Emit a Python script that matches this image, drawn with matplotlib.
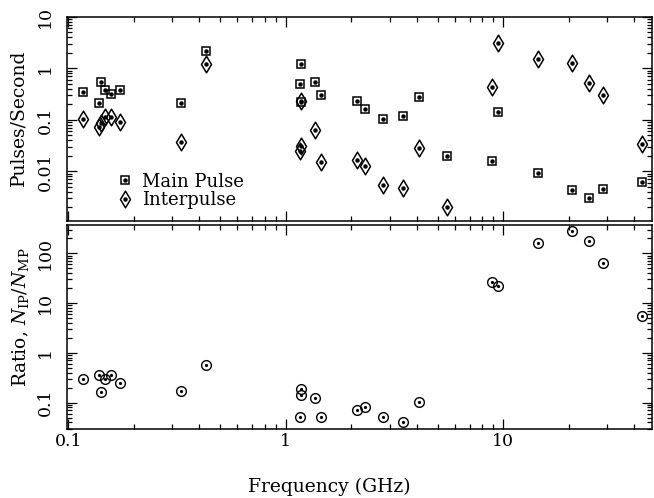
import matplotlib
matplotlib.use("Agg")
import matplotlib.pyplot as plt
from matplotlib.path import Path
from matplotlib.ticker import LogLocator, FuncFormatter, NullFormatter

plt.rcParams['font.family'] = ['DejaVu Serif']
plt.rcParams['mathtext.fontset'] = 'dejavuserif'

# frequencies (GHz) shared by main pulse / interpulse rates
freq = [0.117, 0.139, 0.142, 0.147, 0.157, 0.174, 0.33, 0.43, 1.16, 1.18, 1.18,
        1.36, 1.45, 2.12, 2.30, 2.81, 3.46, 4.11, 5.48, 8.83, 9.46, 14.4, 20.6,
        24.6, 28.7, 43.5]
mp_rate = [0.35, 0.214, 0.54, 0.38, 0.32, 0.375, 0.216, 2.16, 0.49, 1.22, 0.22,
           0.547, 0.30, 0.237, 0.162, 0.106, 0.118, 0.283, 0.0203, 0.016, 0.143,
           0.0093, 0.0044, 0.0030, 0.0046, 0.0063]
ip_rate = [0.105, 0.074, 0.086, 0.116, 0.116, 0.093, 0.037, 1.21, 0.0254, 0.237,
           0.0317, 0.065, 0.0151, 0.0165, 0.013, 0.0054, 0.0047, 0.029, 0.00205,
           0.43, 3.17, 1.53, 1.28, 0.53, 0.30, 0.0347]

# ratio panel (no point at 5.48 GHz)
ratio_freq = [0.117, 0.139, 0.142, 0.147, 0.157, 0.174, 0.33, 0.43, 1.16, 1.18,
              1.18, 1.36, 1.45, 2.12, 2.30, 2.81, 3.46, 4.11, 8.83, 9.46, 14.4,
              20.6, 24.6, 28.7, 43.5]
ratio = [0.30, 0.36, 0.166, 0.296, 0.36, 0.25, 0.172, 0.57, 0.052, 0.19, 0.144,
         0.123, 0.052, 0.071, 0.083, 0.052, 0.0415, 0.103, 26.8, 22.3, 163, 285,
         174, 64, 5.6]

W, H = 654, 498
fig = plt.figure(figsize=(W / 100, H / 100), dpi=100)

def box(x0, y0, x1, y1):
    # pixel box (top-left origin) -> figure fraction rect
    return [x0 / W, 1 - y1 / H, (x1 - x0) / W, (y1 - y0) / H]

ax1 = fig.add_axes(box(66.7, 17, 651.7, 220.7))
ax2 = fig.add_axes(box(66.7, 225, 651.7, 429.3))

diamond = Path([(0, 1), (0.6, 0), (0, -1), (-0.6, 0), (0, 1)],
               [Path.MOVETO, Path.LINETO, Path.LINETO, Path.LINETO, Path.CLOSEPOLY])

dot = dict(ls='none', marker='o', ms=2.2, color='k', mec='k', clip_on=False)

h_sq, = ax1.plot(freq, mp_rate, ls='none', marker='s', ms=6.4, mfc='none',
                 mec='k', mew=1.1, clip_on=False)
h_sqd, = ax1.plot(freq, mp_rate, **dot)
h_di, = ax1.plot(freq, ip_rate, ls='none', marker=diamond, ms=12, mfc='none',
                 mec='k', mew=1.1, clip_on=False)
h_did, = ax1.plot(freq, ip_rate, **dot)

ax2.plot(ratio_freq, ratio, ls='none', marker='o', ms=7.0, mfc='none', mec='k',
         mew=1.0, clip_on=False)
ax2.plot(ratio_freq, ratio, ls='none', marker='o', ms=1.3, color='k', clip_on=False)

fmt = FuncFormatter(lambda v, p: '%g' % v)
for ax in (ax1, ax2):
    ax.set_xscale('log')
    ax.set_yscale('log')
    ax.set_xlim(0.0985, 48)
    for s in ax.spines.values():
        s.set_linewidth(1.1)
    ax.tick_params(which='both', direction='in', top=True, right=True,
                   width=0.9, labelsize=12.5)
    ax.tick_params(which='major', length=7)
    ax.tick_params(which='minor', length=3.5)
    ax.tick_params(axis='y', labelrotation=90, pad=9)
    ax.yaxis.set_major_locator(LogLocator(base=10, numticks=20))
    ax.yaxis.set_minor_locator(LogLocator(base=10, subs=range(2, 10), numticks=20))
    ax.yaxis.set_major_formatter(fmt)
    ax.yaxis.set_minor_formatter(NullFormatter())
    ax.xaxis.set_major_formatter(fmt)
    ax.xaxis.set_minor_formatter(NullFormatter())
    for lab in ax.get_yticklabels():
        lab.set_va('center')

ax1.set_ylim(0.0011, 10)
ax2.set_ylim(0.029, 370)
ax1.tick_params(axis='x', labelbottom=False)
ax2.tick_params(axis='x', pad=3)

ax1.legend([(h_sq, h_sqd), (h_di, h_did)], ['Main Pulse', 'Interpulse'],
           loc='lower left', bbox_to_anchor=(0.085, 0.055), frameon=False,
           fontsize=13, handlelength=1.0, handletextpad=0.4, labelspacing=0.05,
           borderpad=0, borderaxespad=0)

fig.text(18 / W, 1 - 118 / H, 'Pulses/Second', rotation=90, ha='center',
         va='center', fontsize=13.5)
fig.text(21 / W, 1 - 317 / H, r'Ratio, $N_{\mathrm{IP}}/N_{\mathrm{MP}}$',
         rotation=90, ha='center', va='center', fontsize=13.5)
fig.text(329 / W, 1 - 487 / H, 'Frequency (GHz)', ha='center', va='center',
         fontsize=13.5)

fig.savefig('out.png', dpi=100)
